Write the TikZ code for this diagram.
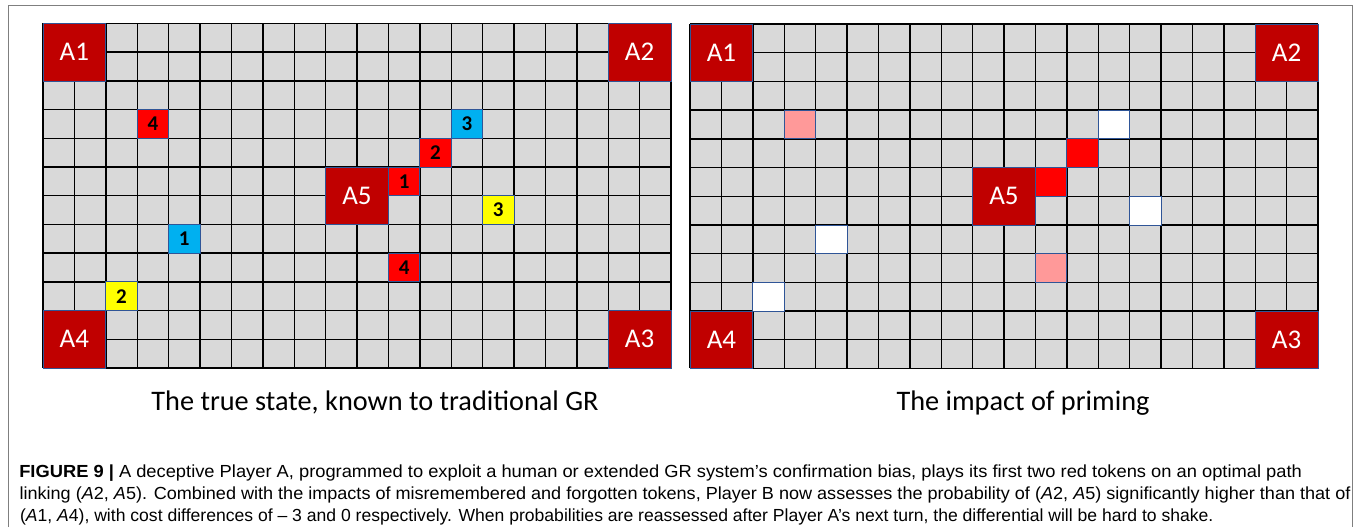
\documentclass[tikz,border=0pt]{standalone}
\usepackage{fontspec}
\setmainfont{Carlito}
\newfontfamily\capfont{Liberation Sans}
\usetikzlibrary{positioning}

\definecolor{cellgray}{HTML}{D9D9D9}
\definecolor{basered}{HTML}{C00000}
\definecolor{edgeblue}{HTML}{2F5597}
\definecolor{tokred}{HTML}{FF0000}
\definecolor{tokblue}{HTML}{00B0F0}
\definecolor{tokyellow}{HTML}{FFFF00}
\definecolor{tokpink}{HTML}{FF9999}
\definecolor{framegray}{HTML}{7F7F7F}

\tikzset{
  cellgrid/.style={line width=1.4pt,black},
  basebox/.style={draw=edgeblue,line width=0.8pt,fill=basered,inner sep=0pt,
    minimum width=62.8pt,minimum height=57.4pt,text=white,
    font=\fontsize{27}{27}\selectfont},
  token/.style={draw=edgeblue,line width=0.8pt,inner sep=0pt,
    minimum width=31.4pt,minimum height=28.7pt,
    font=\fontsize{21}{21}\selectfont\bfseries},
  subtitle/.style={anchor=base,inner sep=0pt,font=\fontsize{28.3}{28.3}\selectfont},
  capline/.style={anchor=base west,inner sep=0pt,transform shape,
    font=\capfont\fontsize{17.5}{17.5}\selectfont}
}

\begin{document}
\begin{tikzpicture}[x=1pt,y=-1pt]
  \useasboundingbox (0,0) rectangle (1356,527);
  \draw[framegray,line width=1pt] (8,527) -- (8,6) -- (1352.5,6) -- (1352.5,527);

  % true state
  \begin{scope}[shift={(43,23.5)},x=31.4pt,y=-28.7pt]
    \fill[cellgray] (0,0) rectangle (20,12);
    \foreach \c in {0,...,20} \draw[cellgrid] (\c,0) -- (\c,12);
    \foreach \r in {0,...,12} \draw[cellgrid] (0,\r) -- (20,\r);
    \node[basebox] (ta1) at (1,1) {A1};
    \node[basebox] (ta2) at (19,1) {A2};
    \node[basebox] (ta3) at (19,11) {A3};
    \node[basebox] (ta4) at (1,11) {A4};
    \node[basebox] (ta5) at (10,6) {A5};
    \node[token,fill=tokred] (tred1) at (11.5,5.5) {1};
    \node[token,fill=tokred] (tred2) at (12.5,4.5) {2};
    \node[token,fill=tokred] (tred4a) at (3.5,3.5) {4};
    \node[token,fill=tokred] (tred4b) at (11.5,8.5) {4};
    \node[token,fill=tokblue] (tblue1) at (4.5,7.5) {1};
    \node[token,fill=tokblue] (tblue3) at (13.5,3.5) {3};
    \node[token,fill=tokyellow] (tyel2) at (2.5,9.5) {2};
    \node[token,fill=tokyellow] (tyel3) at (14.5,6.5) {3};
  \end{scope}

  % impact of priming
  \begin{scope}[shift={(690,24)},x=31.4pt,y=-28.7pt]
    \fill[cellgray] (0,0) rectangle (20,12);
    \foreach \c in {0,...,20} \draw[cellgrid] (\c,0) -- (\c,12);
    \foreach \r in {0,...,12} \draw[cellgrid] (0,\r) -- (20,\r);
    \node[basebox] (pa1) at (1,1) {A1};
    \node[basebox] (pa2) at (19,1) {A2};
    \node[basebox] (pa3) at (19,11) {A3};
    \node[basebox] (pa4) at (1,11) {A4};
    \node[basebox] (pa5) at (10,6) {A5};
    \node[token,fill=tokred] (pred1) at (11.5,5.5) {};
    \node[token,fill=tokred] (pred2) at (12.5,4.5) {};
    \node[token,fill=tokpink] (ppink1) at (3.5,3.5) {};
    \node[token,fill=tokpink] (ppink2) at (11.5,8.5) {};
    \node[token,fill=white] (pwhite1) at (4.5,7.5) {};
    \node[token,fill=white] (pwhite2) at (13.5,3.5) {};
    \node[token,fill=white] (pwhite3) at (2.5,9.5) {};
    \node[token,fill=white] (pwhite4) at (14.5,6.5) {};
  \end{scope}

  \node[subtitle] (truecap) at (375,410) {The true state, known to traditional GR};
  \node[subtitle] (primecap) at (1023,410) {The impact of priming};

  \node[capline,xscale=1.046] (cap1) at (19.1,477) {\textbf{FIGURE 9 |} A deceptive Player A, programmed to exploit a human or extended GR system’s confirmation bias, plays its first two red tokens on an optimal path};
  \node[capline,xscale=1.032] (cap2) at (19.4,499) {linking (\textit{A}2, \textit{A}5). Combined with the impacts of misremembered and forgotten tokens, Player B now assesses the probability of (\textit{A}2, \textit{A}5) significantly higher than that of};
  \node[capline,xscale=1.004] (cap3) at (19.9,521) {(\textit{A}1, \textit{A}4), with cost differences of – 3 and 0 respectively. When probabilities are reassessed after Player A’s next turn, the differential will be hard to shake.};
\end{tikzpicture}
\end{document}
